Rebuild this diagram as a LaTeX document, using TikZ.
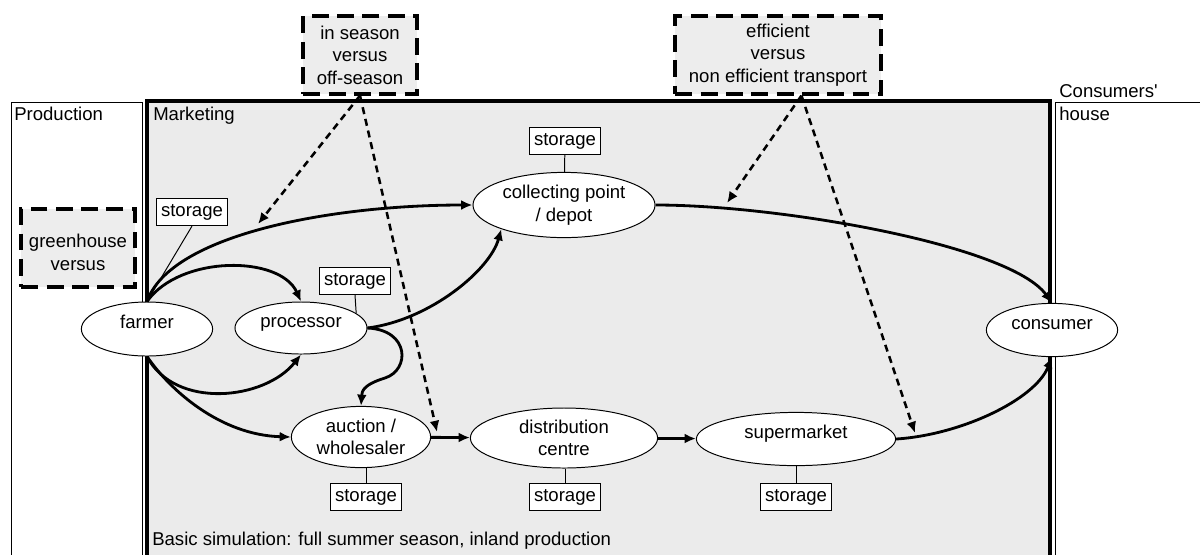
\documentclass[tikz,border=0pt]{standalone}
\usepackage{fontspec}
\setmainfont{Liberation Sans}
\usetikzlibrary{shapes.geometric, arrows.meta}

\begin{document}
\begin{tikzpicture}[x=0.025cm, y=-0.025cm, font=\fontsize{13.2}{16}\selectfont]
  \tikzset{
    ell/.style={draw, ellipse, fill=white, align=center, inner sep=0pt, line width=0.7pt},
    oneline/.style={text height=0.3cm, text depth=0.33cm},
    store/.style={draw, rectangle, fill=white, line width=0.7pt, inner xsep=0.12cm, minimum height=0.68cm},
    choice/.style={draw, rectangle, fill=black!7, line width=2.8pt, dash pattern=on 12pt off 6pt, align=center, inner sep=0pt},
    flow/.style={line width=2pt, -{Latex[length=8pt, width=7pt]}},
    hint/.style={line width=1.8pt, dash pattern=on 5pt off 3.5pt, -{Latex[length=8pt, width=7pt]}},
    area/.style={anchor=base west, align=left, inner xsep=0pt}
  }

  \useasboundingbox (0,0) rectangle (1200,554);
  \clip (0,0) rectangle (1200,554);

  % Areas
  \draw [line width=0.7pt] (11,102) rectangle (142,600);
  \draw [line width=0.7pt] (1055,102) rectangle (1250,600);
  \draw [line width=2.8pt, fill=black!8] (147,101) rectangle (1050,600);

  \node [area] (prod) at (14,120) {Production};
  \node [area] (mark) at (153,120) {Marketing};
  \node [area] (house) at (1059,120) {Consumers\textquotesingle\\house};
  \node [area] (basic) at (152,545) {Basic simulation: full summer season, inland production};

  % Chain
  \node [ell, oneline, minimum width=3.28cm, minimum height=1.35cm] (farmer) at (147,329) {farmer};
  \node [ell, oneline, minimum width=3.3cm, minimum height=1.3cm] (proc) at (301,328) {processor};
  \node [ell, minimum width=4.55cm, minimum height=1.63cm] (depot) at (564,205) {collecting point\\/ depot};
  \node [ell, minimum width=3.48cm, minimum height=1.53cm] (auction) at (361,437) {auction /\\wholesaler};
  \node [ell, minimum width=4.68cm, minimum height=1.5cm] (dist) at (564,438) {distribution\\centre};
  \node [ell, oneline, minimum width=4.98cm, minimum height=1.33cm] (market) at (796,439) {supermarket};
  \node [ell, oneline, minimum width=3.28cm, minimum height=1.33cm] (consumer) at (1052,330) {consumer};

  % Storage
  \node [store] (st-farmer) at (192,212) {storage};
  \node [store] (st-proc) at (355,281) {storage};
  \node [store] (st-depot) at (565,141) {storage};
  \draw [line width=0.7pt] (st-farmer.south) -- (farmer.north);
  \draw [line width=0.7pt] (st-proc.south) -- (proc.15);
  \draw [line width=0.7pt] (st-depot) -- (depot);
  \foreach \n/\x in {auction/366, dist/565, market/796} {
    \node [store] (st-\n) at (\x,497) {storage};
    \draw [line width=0.7pt] (st-\n.north) -- (st-\n.north |- \n.south);
  }

  % Scenarios
  \node [choice, minimum width=2.83cm, minimum height=1.95cm] (green) at (78,248) {\mbox{}\\greenhouse\\versus};
  \node [choice, minimum width=2.83cm, minimum height=1.93cm] (season) at (360,55) {in season\\versus\\off-season};
  \node [choice, minimum width=5.13cm, minimum height=1.93cm] (eff) at (778,55) {efficient\\versus\\non efficient transport};

  % Flows
  \draw [flow] (farmer.north) .. controls (170,235) and (330,205) .. (depot.west);
  \draw [flow] (farmer.north) .. controls (180,255) and (280,255) .. (proc.north);
  \draw [flow] (farmer.south) .. controls (175,410) and (265,400) .. (proc.south);
  \draw [flow] (farmer.south) .. controls (170,390) and (220,435) .. (auction.west);
  \draw [flow] (proc.east) .. controls (430,320) and (490,270) .. (depot.201);
  \draw [flow] (proc.east) .. controls (410,330) and (410,370) .. (385,378)
    .. controls (362,385) and (362,392) .. (auction.north);
  \draw [flow] (auction) -- (dist);
  \draw [flow] (dist) -- (market);
  \draw [flow] (depot.east) .. controls (780,205) and (1010,245) .. (consumer.north);
  \draw [flow] (market.east) .. controls (960,435) and (1035,400) .. (consumer.south);

  % Effects of the scenarios
  \coordinate (hit-1) at (258,224);
  \coordinate (hit-2) at (437,432);
  \coordinate (hit-3) at (727,203);
  \coordinate (hit-4) at (915,433);
  \draw [hint] (season.south) -- (hit-1);
  \draw [hint] (season.south) -- (hit-2);
  \draw [hint] (eff.300) -- (hit-3);
  \draw [hint] (eff.300) -- (hit-4);

\end{tikzpicture}
\end{document}
